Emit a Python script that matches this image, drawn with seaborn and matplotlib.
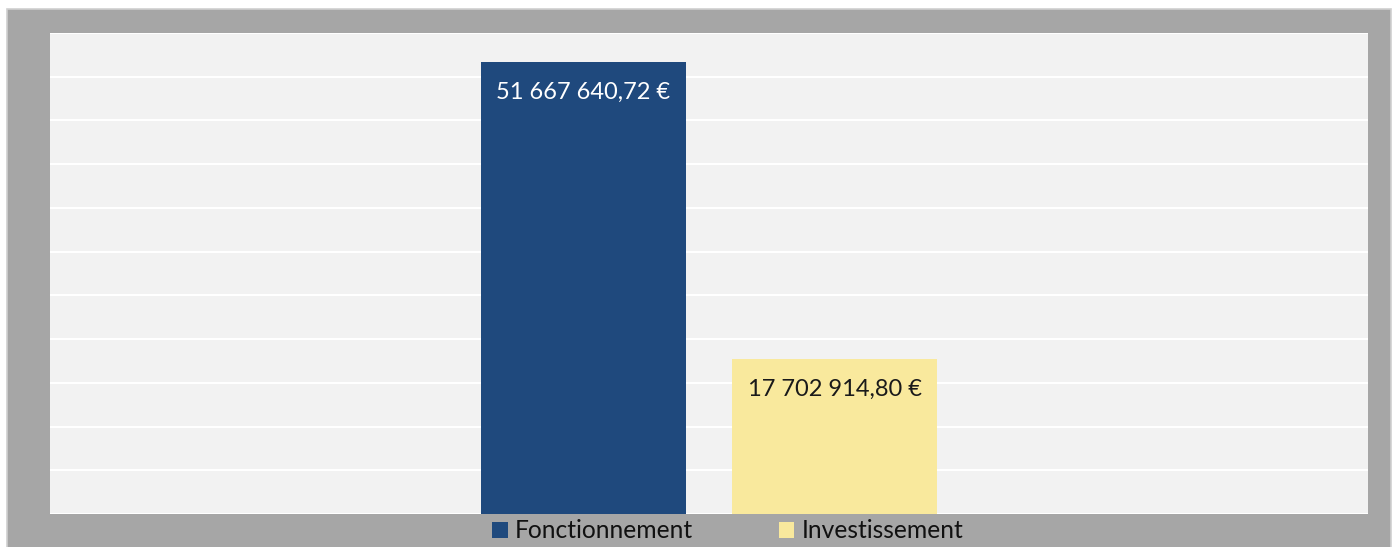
import matplotlib
matplotlib.use("Agg")
import matplotlib.pyplot as plt
import matplotlib.patches as mpatches
import seaborn as sns
import pandas as pd

series = ["Fonctionnement", "Investissement"]
values = [51667640.72, 17702914.80]
colors = ["#1F497D", "#F9E99D"]
label_colors = ["white", "#1a1a1a"]
y_max = 55000000
y_step = 5000000

def fr_euro(v):
    s = f"{v:,.2f}"
    s = s.replace(",", " ").replace(".", ",")
    return s + " €"

sns.set_theme(style="white")
plt.rcParams["font.family"] = ["Lato", "DejaVu Sans"]

W, H = 1398, 547
fig = plt.figure(figsize=(W / 100, H / 100), dpi=100, facecolor="white")
bg = mpatches.Rectangle((7 / W, -0.02), (1391 - 7) / W, (547 - 9) / H + 0.02,
                        transform=fig.transFigure, facecolor="#A6A6A6",
                        edgecolor="#D0D0D0", linewidth=1.2, zorder=-10)
fig.patches.append(bg)

ax = fig.add_axes([50 / W, (H - 514) / H, (1368 - 50) / W, 481 / H])
ax.set_facecolor("#F2F2F2")

df = pd.DataFrame({"cat": [""] * len(series), "series": series, "value": values})
sns.barplot(data=df, x="cat", y="value", hue="series", palette=colors,
            width=0.381, gap=0.183, saturation=1, ax=ax, legend=True,
            linewidth=0, zorder=3)

ax.set_xlim(-0.5, 0.5)
ax.set_ylim(0, y_max)
ax.set_yticks(range(0, y_max + 1, y_step))
ax.yaxis.grid(True, color="white", linewidth=1.5, zorder=1)
ax.set_axisbelow(True)
ax.tick_params(left=False, bottom=False, labelleft=False, labelbottom=False)
ax.set_xlabel("")
ax.set_ylabel("")
for s in ax.spines.values():
    s.set_visible(False)

for cont, lc, v in zip(ax.containers, label_colors, values):
    for bar in cont:
        ax.annotate(fr_euro(v), (bar.get_x() + bar.get_width() / 2, bar.get_height()),
                    xytext=(0, -21.5), textcoords="offset points", ha="center", va="center",
                    color=lc, fontsize=17, zorder=5)

handles, labels = ax.get_legend_handles_labels()
for h in handles:
    h.set_linewidth(0)
ax.legend_.remove()
fig.legend(handles, labels, loc="center", bbox_to_anchor=(728 / W, (H - 531) / H),
           ncol=2, frameon=False, fontsize=17.7, handlelength=0.62, handleheight=0.62,
           handletextpad=0.3, columnspacing=3.5, borderaxespad=0, labelcolor="#111111")

fig.savefig("out.png", dpi=100, facecolor="white")
